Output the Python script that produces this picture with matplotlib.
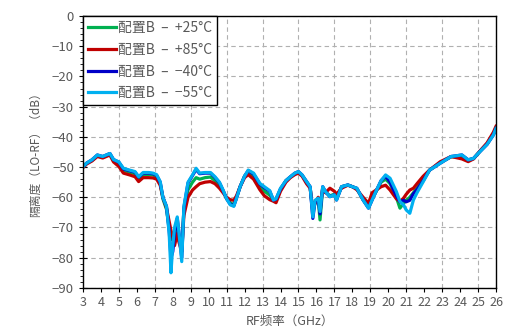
import numpy as np
import matplotlib
matplotlib.use('Agg')
from matplotlib import pyplot as plt
from matplotlib.ticker import MultipleLocator

plt.rcParams['font.family'] = ['Noto Sans CJK SC', 'DejaVu Sans']
plt.rcParams['axes.unicode_minus'] = True

# 频率点 (GHz)
freq = [3.0, 3.2, 3.5, 3.8, 4.1, 4.5, 4.7, 5.0, 5.25, 5.6, 5.9, 6.1, 6.35, 6.65, 6.9, 7.1,
        7.3, 7.45, 7.65, 7.8, 7.9, 8.0, 8.1, 8.25, 8.35, 8.5, 8.62, 8.85, 9.1, 9.3, 9.5, 9.8,
        10.1, 10.35, 10.6, 10.8, 11.0, 11.2, 11.4, 11.55, 11.75, 12.0, 12.2, 12.5, 12.85, 13.1,
        13.4, 13.6, 13.75, 14.0, 14.3, 14.55, 14.8, 15.0, 15.2, 15.45, 15.65, 15.8, 15.92, 16.1,
        16.2, 16.35, 16.5, 16.75, 17.0, 17.12, 17.4, 17.75, 18.0, 18.25, 18.6, 18.9, 19.1, 19.35,
        19.6, 19.85, 20.1, 20.45, 20.65, 20.85, 21.0, 21.2, 21.4, 21.6, 21.95, 22.3, 22.9, 23.5,
        24.1, 24.45, 24.75, 25.1, 25.5, 25.85, 26.0]

# 隔离度 (dB)
iso_p25 = [-49.9, -48.8, -47.8, -46.3, -46.8, -45.8, -47.8, -48.9, -51.0, -51.7, -52.2, -53.8,
           -52.5, -52.5, -52.6, -53.2, -55.5, -60.5, -64.0, -70.0, -74.0, -73.0, -74.0, -70.0,
           -73.0, -78.0, -64.0, -57.5, -55.0, -53.5, -54.0, -53.5, -53.3, -54.5, -56.0, -58.0,
           -60.5, -61.8, -62.5, -60.0, -56.5, -53.0, -51.5, -53.0, -56.5, -58.0, -59.3, -61.0,
           -61.0, -57.5, -54.5, -53.3, -52.2, -51.7, -52.8, -55.0, -56.8, -65.0, -62.0, -61.0,
           -67.5, -57.0, -58.3, -59.5, -59.0, -60.5, -56.5, -56.0, -56.5, -57.2, -60.8, -63.3,
           -60.5, -57.8, -55.0, -54.0, -55.5, -60.0, -63.6, -62.0, -61.0, -60.0, -58.5, -57.0,
           -54.0, -51.0, -48.5, -46.6, -46.6, -47.8, -47.2, -44.8, -42.3, -39.0, -37.0]
iso_p85 = [-50.2, -49.0, -48.0, -46.5, -47.0, -46.0, -48.3, -49.8, -52.0, -52.6, -53.2, -54.8,
           -53.5, -53.5, -53.6, -54.0, -56.0, -60.0, -63.5, -68.0, -71.0, -73.0, -76.0, -72.0,
           -75.0, -78.0, -66.0, -60.0, -57.6, -56.5, -55.5, -55.0, -54.8, -55.5, -57.0, -58.5,
           -60.0, -60.8, -61.0, -59.5, -56.5, -53.5, -52.5, -54.0, -57.5, -59.5, -60.8, -61.3,
           -61.8, -58.0, -55.0, -53.5, -52.5, -52.0, -53.0, -55.5, -57.0, -64.0, -62.0, -60.0,
           -64.0, -57.0, -58.5, -57.0, -58.0, -59.0, -57.0, -56.0, -56.5, -57.5, -60.0, -62.0,
           -58.5, -57.5, -56.5, -56.0, -57.6, -60.5, -61.4, -60.3, -59.0, -57.6, -57.0, -55.5,
           -53.0, -51.0, -48.2, -46.5, -47.3, -48.2, -47.3, -44.7, -42.0, -38.5, -36.5]
iso_m40 = [-49.9, -48.7, -47.6, -46.0, -46.5, -45.5, -47.5, -48.4, -50.6, -51.2, -51.7, -53.3,
           -52.0, -52.0, -52.2, -52.7, -55.0, -60.0, -63.0, -71.0, -80.0, -78.0, -72.0, -67.0,
           -72.0, -80.0, -63.5, -55.3, -52.8, -50.8, -52.2, -52.0, -52.0, -53.4, -55.2, -57.7,
           -60.5, -62.3, -62.8, -60.3, -56.5, -53.0, -51.2, -52.3, -55.6, -56.8, -58.0, -60.9,
           -60.6, -57.2, -54.5, -53.2, -52.0, -51.5, -52.6, -54.8, -56.5, -67.0, -61.5, -60.5,
           -65.5, -56.5, -58.1, -59.8, -59.2, -60.9, -56.5, -55.9, -56.5, -57.0, -60.9, -63.6,
           -60.9, -57.6, -54.5, -53.0, -55.0, -59.5, -61.5, -61.0, -61.5, -61.0, -58.8, -57.5,
           -54.5, -51.0, -48.7, -46.5, -46.0, -47.6, -47.1, -44.9, -42.5, -39.4, -37.2]
iso_m55 = [-49.9, -48.7, -47.6, -46.0, -46.5, -45.5, -47.5, -48.3, -50.4, -51.0, -51.5, -53.2,
           -51.8, -51.8, -52.0, -52.5, -54.8, -60.0, -63.0, -72.0, -85.0, -76.0, -70.0, -66.5,
           -72.0, -81.3, -63.0, -55.0, -52.6, -50.4, -52.0, -51.8, -51.8, -53.2, -55.0, -57.6,
           -60.5, -62.5, -63.0, -60.3, -56.5, -53.0, -51.0, -52.0, -55.4, -56.5, -57.8, -60.9,
           -60.5, -57.0, -54.5, -53.2, -52.0, -51.5, -52.6, -54.8, -56.5, -66.5, -61.0, -60.3,
           -64.7, -56.5, -58.1, -59.8, -59.2, -60.9, -56.5, -55.9, -56.5, -57.0, -60.9, -63.6,
           -60.9, -57.6, -54.5, -52.6, -53.7, -58.1, -61.4, -62.5, -64.2, -65.3, -60.9, -58.5,
           -54.8, -51.0, -48.7, -46.5, -46.0, -47.6, -47.1, -44.9, -42.5, -39.4, -37.2]

labels = ['配置B  –  +25°C', '配置B  –  +85°C', '配置B  –  −40°C', '配置B  –  −55°C']
colors = ['#00b050', '#c00000', '#0000c8', '#00b0f0']

fig = plt.figure(figsize=(5.09, 3.34), dpi=100)
ax = fig.add_axes([0.163, 0.138, 0.8115, 0.814])

for vals, lab, col in zip([iso_p25, iso_p85, iso_m40, iso_m55], labels, colors):
    ax.plot(freq, vals, color=col, lw=2.3, label=lab)

ax.set_xlim(3, 26)
ax.set_ylim(-90, 0)
ax.set_xticks(np.arange(3, 27, 1))
ax.yaxis.set_major_locator(MultipleLocator(10))
ax.yaxis.set_minor_locator(MultipleLocator(2))

# 网格线: 竖线每 2 GHz, 横线每 10 dB
for xv in np.arange(5, 26, 2):
    ax.axvline(xv, color='#b0b0b0', ls=(0, (4, 3)), lw=0.8, zorder=0)
ax.grid(which='major', axis='y', color='#b0b0b0', ls=(0, (4, 3)), lw=0.8)
ax.set_axisbelow(True)

ax.tick_params(axis='x', which='major', direction='out', length=3, labelsize=9,
               labelcolor='#595959', pad=3)
ax.tick_params(axis='y', which='major', direction='inout', length=6, labelsize=9.5,
               labelcolor='#595959')
ax.tick_params(axis='y', which='minor', direction='out', length=2)
for s in ax.spines.values():
    s.set_color('black')
    s.set_linewidth(1.0)

ax.set_xlabel('RF频率（GHz）', fontsize=9, color='#595959', labelpad=4)
ax.set_ylabel('隔离度（LO-RF）（dB）', fontsize=8.5, color='#595959', labelpad=7)

leg = ax.legend(loc='upper left', borderaxespad=0, fancybox=False, fontsize=10,
                handlelength=2.0, handletextpad=0.15, labelspacing=0.56, borderpad=0.35)
leg.get_frame().set_edgecolor('black')
leg.get_frame().set_linewidth(1.0)
leg.get_frame().set_alpha(1.0)
for t in leg.get_texts():
    t.set_color('#595959')

fig.savefig('out.png', dpi=100)
